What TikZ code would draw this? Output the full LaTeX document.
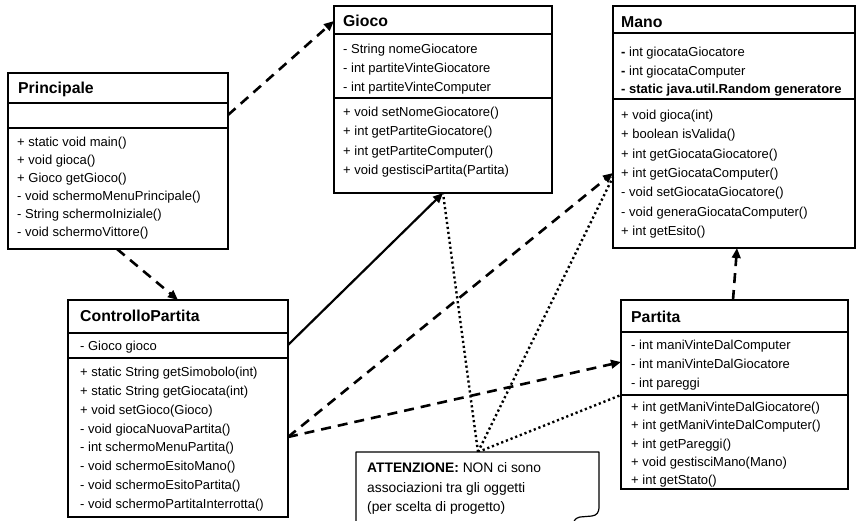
\documentclass[tikz,border=0pt]{standalone}
\usepackage{fontspec}
\setmainfont{Liberation Sans}
\usetikzlibrary{arrows.meta}

\begin{document}
\begin{tikzpicture}[x=1pt,y=-1pt,
  cls/.style={draw=black,line width=1.2pt,fill=white,inner sep=0pt,outer sep=0pt,anchor=north west},
  ttl/.style={font=\fontsize{15.8}{18}\selectfont\bfseries,anchor=base west,inner sep=0pt},
  memb/.style={font=\fontsize{13}{15}\selectfont,anchor=base west,inner sep=0pt},
  notetxt/.style={font=\fontsize{13.8}{16}\selectfont,anchor=base west,inner sep=0pt},
  sep/.style={line width=1.2pt},
  dep/.style={line width=2.6pt,dash pattern=on 10pt off 7pt,-{Triangle[length=10pt,width=8.5pt]}},
  assoc/.style={line width=2.2pt,-{Triangle[length=10pt,width=8.5pt]}},
  anchorline/.style={line width=2.4pt,dash pattern=on 2.2pt off 2.8pt}]

\clip (0,0) rectangle (857,521);
\fill[white] (0,0) rectangle (857,521);

% ---------- Principale ----------
\node[cls,minimum width=220pt,minimum height=176pt] (principale) at (8,73) {};
\draw[sep] (8,103) -- (228,103);
\draw[sep] (8,128) -- (228,128);
\node[ttl] (principaleT) at (18,93.5) {Principale};
\foreach \memb [count=\i from 0] in {+ static void main(),+ void gioca(),+ Gioco getGioco(),- void schermoMenuPrincipale(),- String schermoIniziale(),- void schermoVittore()}
  \node[memb] (prM\i) at (17,{146.5+18*\i}) {\memb};

% ---------- Gioco ----------
\node[cls,minimum width=218pt,minimum height=187pt] (gioco) at (334,6) {};
\draw[sep] (334,34) -- (552,34);
\draw[sep] (334,98) -- (552,98);
\node[ttl] (giocoT) at (343,26.5) {Gioco};
\foreach \memb [count=\i from 0] in {- String nomeGiocatore,- int partiteVinteGiocatore,- int partiteVinteComputer}
  \node[memb] (giA\i) at (343,{53.5+19*\i}) {\memb};
\foreach \memb [count=\i from 0] in {+ void setNomeGiocatore(),+ int getPartiteGiocatore(),+ int getPartiteComputer(),+ void gestisciPartita(Partita)}
  \node[memb] (giM\i) at (343,{116.5+19.5*\i}) {\memb};

% ---------- Mano ----------
\node[cls,minimum width=242pt,minimum height=242pt] (mano) at (613,6) {};
\draw[sep] (613,33) -- (855,33);
\draw[sep] (613,99) -- (855,99);
\node[ttl] (manoT) at (621,27.5) {Mano};
\node[memb] (maA0) at (621,56.5) {{\bfseries -} int giocataGiocatore};
\node[memb] (maA1) at (621,75.2) {{\bfseries -} int giocataComputer};
\node[memb,font=\fontsize{13}{15}\selectfont\bfseries] (maA2) at (621,93.9) {- static java.util.Random generatore};
\foreach \memb [count=\i from 0] in {+ void gioca(int),+ boolean isValida(),+ int getGiocataGiocatore(),+ int getGiocataComputer(),- void setGiocataGiocatore(),- void generaGiocataComputer(),+ int getEsito()}
  \node[memb] (maM\i) at (621,{119.5+19.33*\i}) {\memb};

% ---------- ControlloPartita ----------
\node[cls,minimum width=220pt,minimum height=217pt] (ctrl) at (68,300) {};
\draw[sep] (68,333) -- (288,333);
\draw[sep] (68,358) -- (288,358);
\node[ttl] (ctrlT) at (80,321.5) {ControlloPartita};
\node[memb] (ctA0) at (80,350.5) {- Gioco gioco};
\foreach \memb [count=\i from 0] in {+ static String getSimobolo(int),+ static String getGiocata(int),+ void setGioco(Gioco),- void giocaNuovaPartita(),- int schermoMenuPartita(),- void schermoEsitoMano(),- void schermoEsitoPartita(),- void schermoPartitaInterrotta()}
  \node[memb] (ctM\i) at (80,{376.5+18.86*\i}) {\memb};

% ---------- Partita ----------
\node[cls,minimum width=227pt,minimum height=189pt] (partita) at (621,300) {};
\draw[sep] (621,332) -- (848,332);
\draw[sep] (621,395) -- (848,395);
\node[ttl] (partitaT) at (631,322.5) {Partita};
\foreach \memb [count=\i from 0] in {- int maniVinteDalComputer,- int maniVinteDalGiocatore,- int pareggi}
  \node[memb] (paA\i) at (631,{349.5+19*\i}) {\memb};
\foreach \memb [count=\i from 0] in {+ int getManiVinteDalGiocatore(),+ int getManiVinteDalComputer(),+ int getPareggi(),+ void gestisciMano(Mano),+ int getStato()}
  \node[memb] (paM\i) at (631,{411.5+18.3*\i}) {\memb};

% ---------- dependencies and association ----------
\draw[dep] ([yshift=-42pt]principale.north east) -- ([yshift=-15pt]gioco.north west);
\draw[dep] ([xshift=109pt]principale.south west) -- ([xshift=110pt]ctrl.north west);
\draw[assoc] ([yshift=-45pt]ctrl.north east) -- ([xshift=109pt]gioco.south west);
\draw[dep] ([yshift=-137pt]ctrl.north east) -- ([yshift=-167pt]mano.north west);
\draw[dep] ([yshift=-137pt]ctrl.north east) -- ([yshift=-62pt]partita.north west);
\draw[dep] ([xshift=112pt]partita.north west) -- ([xshift=124pt]mano.south west);

% ---------- note ----------
\node[inner sep=0pt,outer sep=0pt,minimum width=243pt,minimum height=80pt,anchor=north west] (note) at (356,452) {};
\draw[anchorline] ([xshift=122pt]note.north west) -- ([xshift=109pt]gioco.south west);
\draw[anchorline] ([xshift=122pt]note.north west) -- ([yshift=-171pt]mano.north west);
\draw[anchorline] ([xshift=122pt]note.north west) -- ([yshift=-95pt]partita.north west);
\draw[line width=1.2pt,fill=white,line join=round]
  (356,530) -- (356,452) -- (599,452) -- (599,506)
  .. controls (599,513) and (597,515) .. (592,516) -- (580,517)
  .. controls (576,518) and (574,520) .. (573,523) -- (356,530);
\node[notetxt] (noteL1) at (367,472) {\textbf{ATTENZIONE:} NON ci sono};
\node[notetxt] (noteL2) at (367,492) {associazioni tra gli oggetti};
\node[notetxt] (noteL3) at (367,511) {(per scelta di progetto)};
\end{tikzpicture}
\end{document}
